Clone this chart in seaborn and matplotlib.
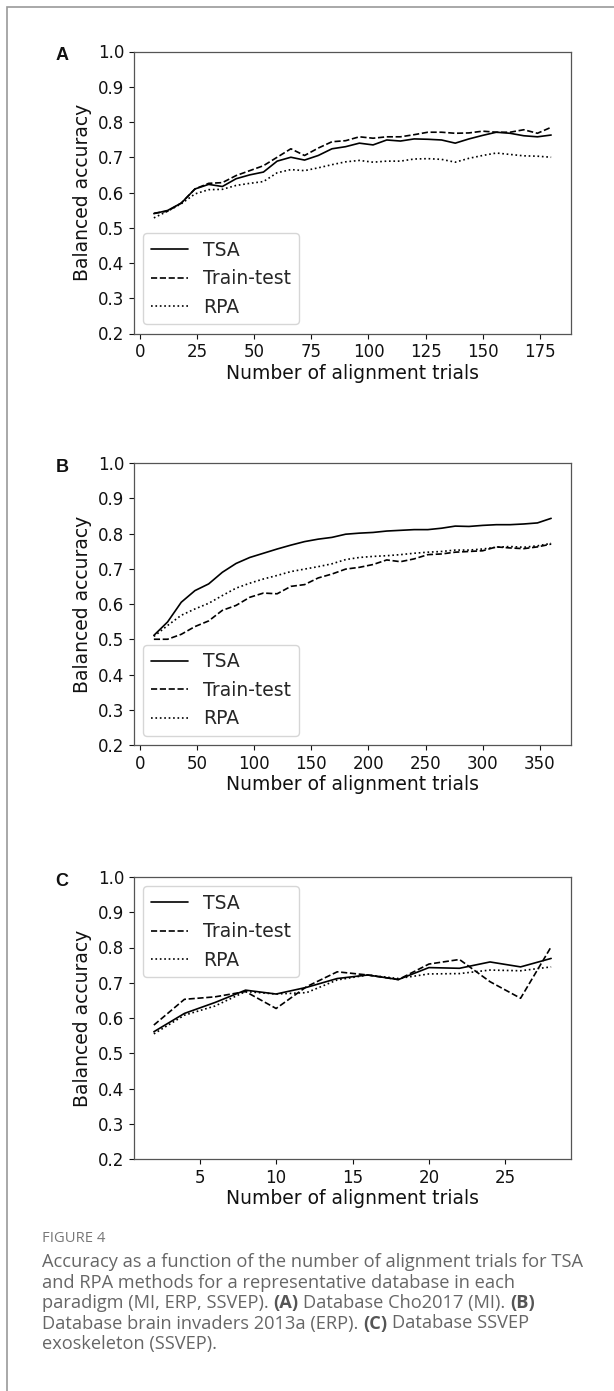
import numpy as np
import pandas as pd
import seaborn as sns
import matplotlib
matplotlib.use("Agg")
import matplotlib.pyplot as plt
from matplotlib.patches import Rectangle

# panel A - Cho2017 (MI)
trials_a = [6, 12, 18, 24, 30, 36, 42, 48, 54, 60, 66, 72, 78, 84, 90,
            96, 102, 108, 114, 120, 126, 132, 138, 144, 150, 156, 162, 168, 174, 180]
tsa_a = [0.540, 0.549, 0.570, 0.610, 0.623, 0.617, 0.639, 0.650, 0.658, 0.689,
         0.700, 0.692, 0.705, 0.724, 0.730, 0.740, 0.735, 0.749, 0.746, 0.752,
         0.751, 0.749, 0.740, 0.752, 0.762, 0.771, 0.768, 0.761, 0.758, 0.763]
tt_a = [0.541, 0.547, 0.570, 0.610, 0.626, 0.628, 0.648, 0.662, 0.676, 0.700,
        0.724, 0.705, 0.726, 0.744, 0.747, 0.758, 0.754, 0.758, 0.758, 0.764,
        0.771, 0.771, 0.768, 0.769, 0.774, 0.771, 0.771, 0.778, 0.768, 0.785]
rpa_a = [0.528, 0.547, 0.568, 0.596, 0.608, 0.609, 0.620, 0.626, 0.631, 0.656,
         0.665, 0.662, 0.670, 0.679, 0.687, 0.691, 0.686, 0.689, 0.689, 0.695,
         0.696, 0.694, 0.686, 0.697, 0.705, 0.712, 0.708, 0.704, 0.703, 0.700]

# panel B - brain invaders 2013a (ERP)
trials_b = [12, 24, 36, 48, 60, 72, 84, 96, 108, 120, 132, 144, 156, 168, 180,
            192, 204, 216, 228, 240, 252, 264, 276, 288, 300, 312, 324, 336, 348, 360]
tsa_b = [0.511, 0.549, 0.605, 0.638, 0.657, 0.690, 0.715, 0.732, 0.744, 0.756,
         0.767, 0.777, 0.784, 0.789, 0.798, 0.801, 0.803, 0.807, 0.809, 0.811,
         0.811, 0.815, 0.821, 0.820, 0.823, 0.825, 0.825, 0.827, 0.830, 0.843]
tt_b = [0.500, 0.500, 0.514, 0.536, 0.552, 0.582, 0.596, 0.619, 0.631, 0.629,
        0.650, 0.655, 0.674, 0.685, 0.699, 0.704, 0.712, 0.725, 0.720, 0.728,
        0.740, 0.742, 0.747, 0.749, 0.751, 0.762, 0.759, 0.757, 0.762, 0.770]
rpa_b = [0.508, 0.539, 0.568, 0.586, 0.602, 0.624, 0.645, 0.659, 0.671, 0.681,
         0.692, 0.699, 0.706, 0.714, 0.726, 0.732, 0.735, 0.737, 0.740, 0.744,
         0.747, 0.749, 0.753, 0.753, 0.756, 0.761, 0.763, 0.761, 0.765, 0.772]

# panel C - SSVEP exoskeleton
trials_c = [2, 4, 6, 8, 10, 12, 14, 16, 18, 20, 22, 24, 26, 28]
tsa_c = [0.561, 0.613, 0.644, 0.679, 0.668, 0.687, 0.712, 0.722, 0.709, 0.743,
         0.741, 0.759, 0.745, 0.769]
tt_c = [0.580, 0.653, 0.660, 0.675, 0.627, 0.689, 0.731, 0.722, 0.709, 0.753,
        0.766, 0.703, 0.656, 0.802]
rpa_c = [0.555, 0.608, 0.634, 0.675, 0.668, 0.672, 0.708, 0.722, 0.712, 0.725,
         0.726, 0.736, 0.734, 0.745]

methods = ["TSA", "Train-test", "RPA"]
styles = ["-", "--", ":"]
panels = [("A", trials_a, [tsa_a, tt_a, rpa_a], "lower left"),
          ("B", trials_b, [tsa_b, tt_b, rpa_b], "lower left"),
          ("C", trials_c, [tsa_c, tt_c, rpa_c], "upper left")]

sns.set_style("ticks")
plt.rcParams["font.family"] = ["DejaVu Sans"]

W, H = 614, 1391
fig = plt.figure(figsize=(W / 100, H / 100), dpi=100)

def box(l, t, r, b):
    return [l / W, 1 - b / H, (r - l) / W, (b - t) / H]

tops = [51.5, 463, 877]
for (letter, x, series, loc), top in zip(panels, tops):
    ax = fig.add_axes(box(134, top, 571, top + 282))
    for name, y, ls in zip(methods, series, styles):
        df = pd.DataFrame({"trials": x, "acc": y})
        sns.lineplot(data=df, x="trials", y="acc", ax=ax, color="black",
                     linestyle=ls, linewidth=1.2, label=name)
    ax.set_ylim(0.2, 1.0)
    ax.set_yticks(np.arange(0.2, 1.01, 0.1))
    ax.set_xlabel("Number of alignment trials", fontsize=13.5, color="#111111", labelpad=2)
    ax.set_ylabel("Balanced accuracy", fontsize=13.5, color="#111111", labelpad=4)
    ax.tick_params(labelsize=12, colors="#111111", length=3.5, width=0.8)
    for s in ax.spines.values():
        s.set_color("#555555")
        s.set_linewidth(0.9)
    ax.legend(loc=loc, fontsize=13.5, frameon=True, handlelength=2.0)
    fig.text(62 / W, 1 - (top + 4) / H, letter, ha="center", va="center",
             fontsize=13, weight="bold", family="Liberation Sans", color="#111111")

# outer frame of the figure card
fig.patches.append(Rectangle((7 / W, -0.05), 1.2, 1.05 - 7 / H, transform=fig.transFigure,
                             fill=False, edgecolor="#9a9a9a", linewidth=1.2))

# caption
cap_font = ["Open Sans", "DejaVu Sans"]
cap_col = "#666666"
lines = [
    [("Accuracy as a function of the number of alignment trials for TSA", "normal")],
    [("and RPA methods for a representative database in each", "normal")],
    [("paradigm (MI, ERP, SSVEP).", "normal"), ("(A)", "bold"),
     ("Database Cho2017 (MI).", "normal"), ("(B)", "bold")],
    [("Database brain invaders 2013a (ERP).", "normal"), ("(C)", "bold"),
     ("Database SSVEP", "normal")],
    [("exoskeleton (SSVEP).", "normal")],
]
fig.canvas.draw()
renderer = fig.canvas.get_renderer()

def width_of(s, weight, size):
    t = fig.text(0, 0, s, fontsize=size, family=cap_font, weight=weight)
    w = t.get_window_extent(renderer).width
    t.remove()
    return w

# size the caption so the first line spans the same width as in the page
cap_size = 10 * 541 / width_of(lines[0][0][0], "normal", 10)
fig_size = 10 * 63 / width_of("FIGURE 4", "normal", 10)
fig.text(42 / W, 1 - 1238 / H, "FIGURE 4", fontsize=fig_size, family=cap_font,
         color="#777777", va="center")

space_w = width_of("x x", "normal", cap_size) - width_of("xx", "normal", cap_size)
for i, parts in enumerate(lines):
    y = 1262 + i * 20.5
    xpos = 42
    for txt, weight in parts:
        t = fig.text(xpos / W, 1 - y / H, txt, fontsize=cap_size, family=cap_font,
                     weight=weight, color=cap_col if weight == "normal" else "#555555",
                     va="center")
        xpos += t.get_window_extent(renderer).width + space_w

fig.savefig("out.png", dpi=100)
